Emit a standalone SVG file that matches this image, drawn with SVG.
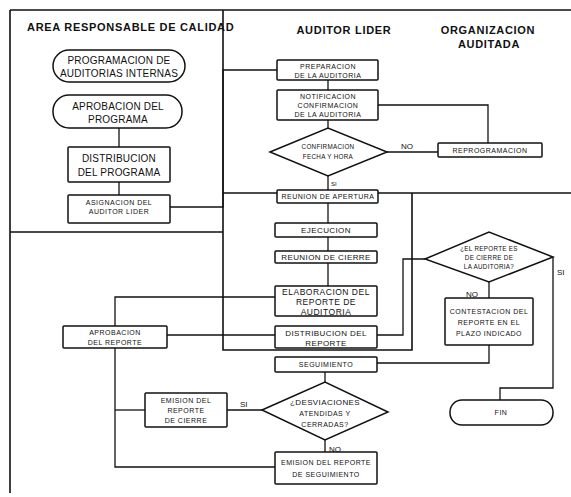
<svg xmlns="http://www.w3.org/2000/svg" width="571" height="497" viewBox="0 0 571 497">
<style>
.bg{fill:#fff}
.lane{fill:none;stroke:#111;stroke-width:1.6}
.cn{fill:none;stroke:#111;stroke-width:1.3}
.box{fill:#fff;stroke:#111;stroke-width:1.5}
text{font-family:"Liberation Sans",Arial,sans-serif;fill:#111;text-anchor:middle}
.h{font-size:11px;font-weight:bold;letter-spacing:0.7px}
.t10{font-size:10px;letter-spacing:0.2px}
.t8{font-size:8px;letter-spacing:0.4px}
.t85{font-size:8.5px;letter-spacing:0.5px}
.t7{font-size:7px;letter-spacing:0.5px}
.t6{font-size:6.3px;letter-spacing:0.3px}
.lb{font-size:8px;text-anchor:start}
</style>
<rect class="bg" x="0" y="0" width="571" height="497"/>
<g id="lanes">
<path class="lane" d="M10,10 H571 M10,10 V493 M223,10 V350 H412 V193 M223,193 H571 M10,232 H223"/>
<text class="h" x="27" y="31" style="text-anchor:start">AREA RESPONSABLE DE CALIDAD</text>
<text class="h" x="344" y="34">AUDITOR LIDER</text>
<text class="h" x="488" y="34">ORGANIZACION</text>
<text class="h" x="489" y="48">AUDITADA</text>
</g>
<g id="connectors">
<path class="cn" d="M170,207 H223 V70 H277"/>
<path class="cn" d="M119,128 V147"/>
<path class="cn" d="M119,182 V195"/>
<path class="cn" d="M328,80 V90"/>
<path class="cn" d="M328,120 V128"/>
<path class="cn" d="M387,152 H438"/>
<path class="cn" d="M488,143 V105 H378"/>
<path class="cn" d="M328,176 V190"/>
<path class="cn" d="M328,203 V223"/>
<path class="cn" d="M328,237 V251"/>
<path class="cn" d="M328,263 V286"/>
<path class="cn" d="M275,297 H115 V326"/>
<path class="cn" d="M167,335 H275"/>
<path class="cn" d="M377,335 H403 V259 H425"/>
<path class="cn" d="M489,282 V298"/>
<path class="cn" d="M489,345 V363 H377"/>
<path class="cn" d="M553,257 V388 H500 V400"/>
<path class="cn" d="M325,372 V382"/>
<path class="cn" d="M262,410 H227"/>
<path class="cn" d="M145,410 H115"/>
<path class="cn" d="M115,348 V467 H275"/>
<path class="cn" d="M325,440 V452"/>
<text class="lb" x="401" y="149">NO</text>
<text class="lb" x="331" y="186" style="font-size:6px">SI</text>
<text class="lb" x="466" y="297">NO</text>
<text class="lb" x="557" y="275">SI</text>
<text class="lb" x="240" y="407">SI</text>
<text class="lb" x="329" y="452">NO</text>
</g>
<g id="n-programacion">
<rect class="box" x="53" y="50" width="132" height="32" rx="16"/>
<text class="t10" x="119" y="64">PROGRAMACION DE</text>
<text class="t10" x="119" y="77">AUDITORIAS INTERNAS</text>
</g>
<g id="n-aprobacion-programa">
<rect class="box" x="53" y="95" width="129" height="33" rx="16"/>
<text class="t10" x="118" y="110">APROBACION DEL</text>
<text class="t10" x="118" y="123">PROGRAMA</text>
</g>
<g id="n-distribucion-programa">
<rect class="box" x="68" y="147" width="102" height="35" rx="1"/>
<text class="t10" x="119" y="162">DISTRIBUCION</text>
<text class="t10" x="119" y="176">DEL PROGRAMA</text>
</g>
<g id="n-asignacion">
<rect class="box" x="68" y="195" width="102" height="28" rx="1"/>
<text class="t7" x="119" y="205">ASIGNACION DEL</text>
<text class="t7" x="119" y="214">AUDITOR LIDER</text>
</g>
<g id="n-preparacion">
<rect class="box" x="277" y="60" width="101" height="20" rx="1"/>
<text class="t7" x="328" y="69">PREPARACION</text>
<text class="t7" x="328" y="78">DE LA AUDITORIA</text>
</g>
<g id="n-notificacion">
<rect class="box" x="277" y="90" width="101" height="30" rx="1"/>
<text class="t7" x="328" y="99">NOTIFICACION</text>
<text class="t7" x="328" y="108">CONFIRMACION</text>
<text class="t7" x="328" y="117">DE LA AUDITORIA</text>
</g>
<g id="n-confirmacion">
<polygon class="box" points="270,152 328,128 387,152 328,176"/>
<text class="t6" x="328" y="149">CONFIRMACION</text>
<text class="t6" x="328" y="159">FECHA Y HORA</text>
</g>
<g id="n-reprogramacion">
<rect class="box" x="438" y="143" width="104" height="14" rx="1"/>
<text class="t7" x="490" y="153">REPROGRAMACION</text>
</g>
<g id="n-reunion-apertura">
<rect class="box" x="277" y="190" width="101" height="13" rx="1"/>
<text class="t7" x="328" y="199">REUNION DE APERTURA</text>
</g>
<g id="n-ejecucion">
<rect class="box" x="275" y="223" width="102" height="14" rx="1"/>
<text class="t8" x="326" y="233">EJECUCION</text>
</g>
<g id="n-reunion-cierre">
<rect class="box" x="275" y="251" width="102" height="12" rx="1"/>
<text class="t8" x="326" y="260">REUNION DE CIERRE</text>
</g>
<g id="n-elaboracion">
<rect class="box" x="275" y="286" width="102" height="30" rx="1"/>
<text class="t85" x="326" y="295">ELABORACION DEL</text>
<text class="t85" x="326" y="305">REPORTE DE</text>
<text class="t85" x="326" y="315">AUDITORIA</text>
</g>
<g id="n-aprobacion-reporte">
<rect class="box" x="63" y="326" width="104" height="22" rx="1"/>
<text class="t7" x="115" y="335">APROBACION</text>
<text class="t7" x="115" y="345">DEL REPORTE</text>
</g>
<g id="n-distribucion-reporte">
<rect class="box" x="275" y="326" width="102" height="22" rx="1"/>
<text class="t8" x="326" y="336">DISTRIBUCION DEL</text>
<text class="t8" x="326" y="346">REPORTE</text>
</g>
<g id="n-es-cierre">
<polygon class="box" points="425,259 489,232 553,257 489,282"/>
<text class="t6" x="489" y="251">¿EL REPORTE ES</text>
<text class="t6" x="489" y="260">DE CIERRE DE</text>
<text class="t6" x="489" y="269">LA AUDITORIA?</text>
</g>
<g id="n-contestacion">
<rect class="box" x="445" y="298" width="88" height="47" rx="1"/>
<text class="t7" x="489" y="314">CONTESTACION DEL</text>
<text class="t7" x="489" y="325">REPORTE EN EL</text>
<text class="t7" x="489" y="336">PLAZO INDICADO</text>
</g>
<g id="n-seguimiento">
<rect class="box" x="275" y="357" width="102" height="15" rx="1"/>
<text class="t7" x="326" y="367">SEGUIMIENTO</text>
</g>
<g id="n-desviaciones">
<polygon class="box" points="262,410 325,382 388,412 325,440"/>
<text class="t8" x="325" y="405">¿DESVIACIONES</text>
<text class="t7" x="325" y="416">ATENDIDAS Y</text>
<text class="t7" x="325" y="427">CERRADAS?</text>
</g>
<g id="n-emision-cierre">
<rect class="box" x="145" y="393" width="82" height="34" rx="1"/>
<text class="t7" x="186" y="403">EMISION DEL</text>
<text class="t7" x="186" y="413">REPORTE</text>
<text class="t7" x="186" y="423">DE CIERRE</text>
</g>
<g id="n-emision-seguimiento">
<rect class="box" x="275" y="452" width="102" height="32" rx="1"/>
<text class="t7" x="326" y="465">EMISION DEL REPORTE</text>
<text class="t7" x="326" y="477">DE SEGUIMIENTO</text>
</g>
<g id="n-fin">
<rect class="box" x="450" y="400" width="103" height="25" rx="12"/>
<text class="t7" x="501" y="415">FIN</text>
</g>
</svg>
